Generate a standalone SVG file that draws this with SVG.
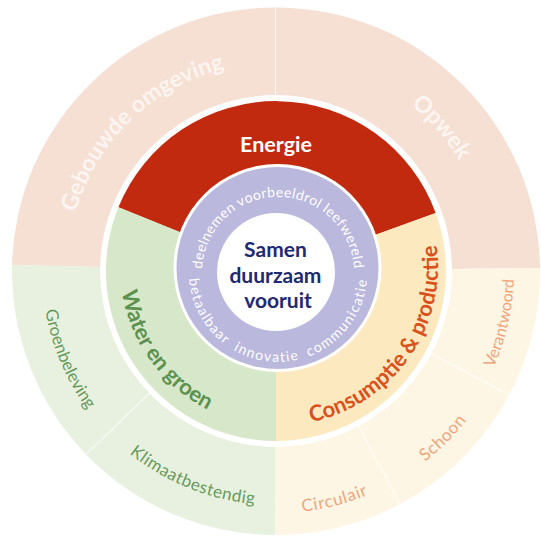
<svg xmlns="http://www.w3.org/2000/svg" xmlns:xlink="http://www.w3.org/1999/xlink" width="541" height="538" viewBox="0 0 541 538">
  <style>
    .bold { font-family: Lato, "Open Sans", "Liberation Sans", sans-serif; font-weight: 700; }
    .reg { font-family: Lato, "Open Sans", "Liberation Sans", sans-serif; font-weight: 400; }
    .outerTitle { font-size: 23px; fill: #ffffff; fill-opacity: 0.7; }
    .ringTitle { font-size: 22px; }
    .sub { font-size: 17px; }
    .lav { font-size: 14px; fill: #ffffff; }
    .sep { stroke: #ffffff; stroke-width: 1.2; stroke-opacity: 0.7; fill: none; }
  </style>
  <defs>
    <path id="pGebouwd" d="M74.2,321.3 A207 207 0 0 1 333.3,71.1"/>
    <path id="pOpwek" d="M309.5,59.6 A214 214 0 0 1 490,267.3"/>
    <path id="pWater" d="M147.4,177.5 A160 160 0 0 0 324.1,420.8"/>
    <path id="pCons" d="M225.2,415.2 A158 158 0 0 0 401.6,166.1"/>
    <path id="pLavTop" d="M212.2,311 A76 76 0 1 1 343.8,311"/>
    <path id="pLavBot" d="M200.9,228.5 A89 89 0 1 0 355.1,228.5"/>
    <path id="pGroen" d="M52.2,202.6 A234 234 0 0 0 169.8,479.5"/>
    <path id="pKlimaat" d="M69.4,380.9 A234 234 0 0 0 348.3,493.6"/>
    <path id="pVerant" d="M419.2,461.1 A238 238 0 0 0 488.1,162.9"/>
    <path id="pSchoon" d="M297.1,512.1 A242 242 0 0 0 517.1,292.1"/>
    <path id="pCirc" d="M171.4,489.2 A242 242 0 0 0 472.8,411.9"/>
  </defs>

  <g id="outer-ring">
    <path id="outer-pink" d="M276,271 L12.1,265 A264 264 0 0 1 540,268 Z" fill="#f6dfd3"/>
    <path id="outer-yellow" d="M276,271 L540,268 A264 264 0 0 1 275,535 Z" fill="#fef6e4"/>
    <path id="outer-green" d="M276,271 L275,535 A264 264 0 0 1 12.1,265 Z" fill="#e8f1df"/>
  </g>

  <g id="connectors">
    <line class="sep" x1="275.5" y1="95" x2="275.5" y2="7" stroke-opacity="1" stroke-width="1.6"/>
    <line class="sep" x1="149.4" y1="393.3" x2="86.2" y2="454.4"/>
    <line class="sep" x1="431.4" y1="353.6" x2="509.1" y2="394.9" stroke-opacity="0.5"/>
    <line class="sep" x1="358.6" y1="426.4" x2="399.9" y2="504.1" stroke-opacity="0.5"/>
  </g>

  <g id="node-gebouwde-omgeving">
    <text class="bold outerTitle"><textPath xlink:href="#pGebouwd" href="#pGebouwd" startOffset="50%" text-anchor="middle">Gebouwde omgeving</textPath></text>
  </g>
  <g id="node-opwek">
    <text class="bold outerTitle"><textPath xlink:href="#pOpwek" href="#pOpwek" startOffset="50%" text-anchor="middle">Opwek</textPath></text>
  </g>
  <g id="node-groenbeleving">
    <text class="reg sub" fill="#679a5c"><textPath xlink:href="#pGroen" href="#pGroen" startOffset="50%" text-anchor="middle">Groenbeleving</textPath></text>
  </g>
  <g id="node-klimaatbestendig">
    <text class="reg sub" fill="#679a5c" letter-spacing="0.5"><textPath xlink:href="#pKlimaat" href="#pKlimaat" startOffset="50%" text-anchor="middle">Klimaatbestendig</textPath></text>
  </g>
  <g id="node-verantwoord">
    <text class="reg" font-size="16" fill="#eea57c"><textPath xlink:href="#pVerant" href="#pVerant" startOffset="50%" text-anchor="middle">Verantwoord</textPath></text>
  </g>
  <g id="node-schoon">
    <text class="reg sub" fill="#eea57c" letter-spacing="0.6"><textPath xlink:href="#pSchoon" href="#pSchoon" startOffset="50%" text-anchor="middle">Schoon</textPath></text>
  </g>
  <g id="node-circulair">
    <text class="reg sub" fill="#eea57c" letter-spacing="0.8"><textPath xlink:href="#pCirc" href="#pCirc" startOffset="50%" text-anchor="middle">Circulair</textPath></text>
  </g>

  <g id="inner-ring">
    <circle cx="276" cy="271" r="176" fill="#ffffff"/>
    <g id="node-energie">
      <path d="M276,271 L118.4,207.3 A170 170 0 0 1 435.7,212.9 Z" fill="#c22a10"/>
      <text class="bold" font-size="21.5" fill="#ffffff" x="276" y="152" text-anchor="middle">Energie</text>
    </g>
    <g id="node-consumptie">
      <path d="M276,271 L435.7,212.9 A170 170 0 0 1 276,441 Z" fill="#fde9c0"/>
      <text class="bold ringTitle" fill="#d9521d"><textPath xlink:href="#pCons" href="#pCons" startOffset="50%" text-anchor="middle">Consumptie &amp; productie</textPath></text>
    </g>
    <g id="node-water">
      <path d="M276,271 L276,441 A170 170 0 0 1 118.4,207.3 Z" fill="#d6e8c9"/>
      <text class="bold ringTitle" fill="#5c9150"><textPath xlink:href="#pWater" href="#pWater" startOffset="50%" text-anchor="middle">Water en groen</textPath></text>
    </g>
  </g>

  <g id="node-waarden">
    <circle cx="277.5" cy="268" r="104" fill="#ffffff"/>
    <circle cx="277.5" cy="268" r="101" fill="#bbb8de"/>
    <text class="reg lav" letter-spacing="0.4"><textPath xlink:href="#pLavTop" href="#pLavTop" startOffset="50%" text-anchor="middle">deelnemen voorbeeldrol leefwereld</textPath></text>
    <text class="reg lav" letter-spacing="1.4" word-spacing="4"><textPath xlink:href="#pLavBot" href="#pLavBot" startOffset="50%" text-anchor="middle">betaalbaar innovatie communicatie</textPath></text>
  </g>

  <g id="node-center">
    <circle cx="276" cy="272" r="59" fill="#ffffff"/>
    <text class="bold" font-size="21" fill="#1e2a72" text-anchor="middle">
      <tspan x="278" y="257">Samen</tspan>
      <tspan x="278" y="282.5">duurzaam</tspan>
      <tspan x="278" y="308">vooruit</tspan>
    </text>
  </g>
</svg>
